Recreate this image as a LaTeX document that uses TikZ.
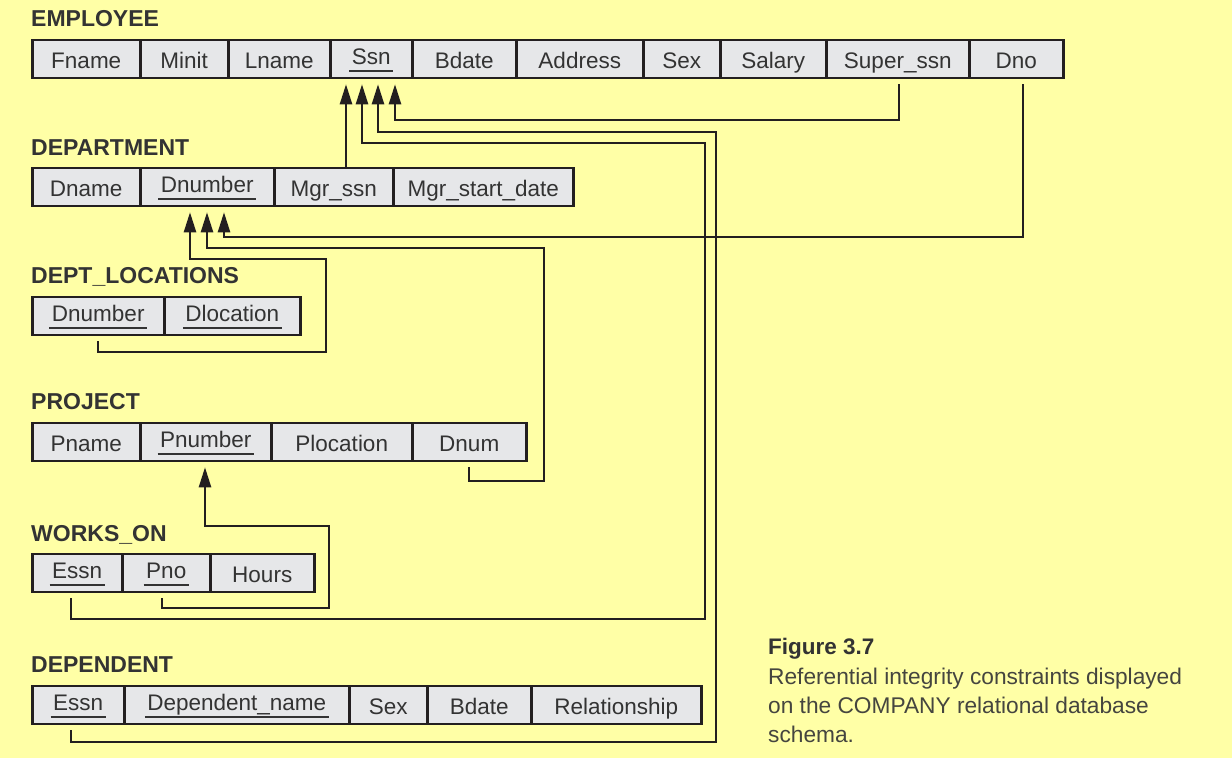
\documentclass[tikz,border=0pt]{standalone}
\usepackage{fontspec}
\setmainfont{Liberation Sans}
\usetikzlibrary{arrows.meta,calc}
\definecolor{bgyellow}{HTML}{FFFFA6}
\definecolor{cellgray}{HTML}{E6E7E9}
\definecolor{inkline}{HTML}{231F20}
\definecolor{inktext}{HTML}{333333}
\definecolor{captext}{HTML}{45453F}
\newcommand\ulword[1]{\setbox0\hbox{#1}\rlap{\hspace{-2.5pt}\rule[-8pt]{\dimexpr\wd0+5pt\relax}{2.3pt}}\box0}
\tikzset{
 cell/.style={draw=inkline, fill=cellgray, line width=2.5pt, minimum height=38pt, inner sep=0pt, anchor=west, text=inktext, font=\fontsize{22.5}{26}\selectfont, text height=20pt, text depth=2pt},
 keycell/.style={cell, text height=12pt, text depth=2pt},
 reltitle/.style={anchor=base west, inner sep=0pt, text=inktext, font=\bfseries\fontsize{23}{27}\selectfont},
 fk/.style={draw=inkline, line width=2.3pt, line join=miter},
 fkarrow/.style={fk, -{Triangle[length=20pt,width=12pt]}},
 captitle/.style={anchor=base west, inner sep=0pt, text=inktext, font=\bfseries\fontsize{22.5}{26}\selectfont},
 captext/.style={anchor=base west, inner sep=0pt, text=captext, font=\fontsize{22.7}{26}\selectfont},
}
\begin{document}
\begin{tikzpicture}[x=1pt,y=-1pt]
\useasboundingbox (0,0) rectangle (1232,758);
\fill[bgyellow] (0,0) rectangle (1232,758);

% EMPLOYEE
\node[reltitle] (temp) at (31,26) {EMPLOYEE};
\node[cell, minimum width=108pt] (efname) at (31,59) {Fname};
\node[cell, minimum width=88pt] (eminit) at (139,59) {Minit};
\node[cell, minimum width=102pt] (elname) at (227,59) {Lname};
\node[keycell, minimum width=82pt] (essn) at (329,59) {\ulword{Ssn}};
\node[cell, minimum width=104pt] (ebdate) at (411,59) {Bdate};
\node[cell, minimum width=127pt] (eaddr) at (515,59) {Address};
\node[cell, minimum width=77pt] (esex) at (642,59) {Sex};
\node[cell, minimum width=106pt] (esal) at (719,59) {Salary};
\node[cell, minimum width=143pt] (esuper) at (825,59) {Super\_ssn};
\node[cell, minimum width=94pt] (edno) at (968,59) {Dno};

% DEPARTMENT
\node[reltitle] (tdep) at (31,155) {DEPARTMENT};
\node[cell, minimum width=108pt] (ddname) at (31,187) {Dname};
\node[keycell, minimum width=134pt] (ddnum) at (139,187) {\ulword{Dnumber}};
\node[cell, minimum width=119pt] (dmgr) at (273,187) {Mgr\_ssn};
\node[cell, minimum width=180pt] (dmgrdate) at (392,187) {Mgr\_start\_date};

% DEPT_LOCATIONS
\node[reltitle] (tloc) at (31,283) {DEPT\_LOCATIONS};
\node[keycell, minimum width=132pt] (ldnum) at (31,316) {\ulword{Dnumber}};
\node[keycell, minimum width=136pt] (lloc) at (163,316) {\ulword{Dlocation}};

% PROJECT
\node[reltitle] (tproj) at (31,409) {PROJECT};
\node[cell, minimum width=108pt] (ppname) at (31,442) {Pname};
\node[keycell, minimum width=131pt] (ppnum) at (139,442) {\ulword{Pnumber}};
\node[cell, minimum width=141pt] (pploc) at (270,442) {Plocation};
\node[cell, minimum width=114pt] (pdnum) at (411,442) {Dnum};

% WORKS_ON
\node[reltitle] (twork) at (31,541) {WORKS\_ON};
\node[keycell, minimum width=90pt] (wessn) at (31,573) {\ulword{Essn}};
\node[keycell, minimum width=88pt] (wpno) at (121,573) {\ulword{Pno}};
\node[cell, minimum width=104pt] (whours) at (209,573) {Hours};

% DEPENDENT
\node[reltitle] (tdept) at (31,672) {DEPENDENT};
\node[keycell, minimum width=92pt] (dpessn) at (31,705) {\ulword{Essn}};
\node[keycell, minimum width=225pt] (dpname) at (123,705) {\ulword{Dependent\_name}};
\node[cell, minimum width=78pt] (dpsex) at (348,705) {Sex};
\node[cell, minimum width=104pt] (dpbdate) at (426,705) {Bdate};
\node[cell, minimum width=170pt] (dprel) at (530,705) {Relationship};

% arrow tips
\coordinate (ssnA) at ($(essn.south west)+(17,5)$);
\coordinate (ssnB) at ($(essn.south west)+(33,5)$);
\coordinate (ssnC) at ($(essn.south west)+(49,5)$);
\coordinate (ssnD) at ($(essn.south west)+(66,5)$);
\coordinate (dnA) at ($(ddnum.south west)+(51,5)$);
\coordinate (dnB) at ($(ddnum.south west)+(68,5)$);
\coordinate (dnC) at ($(ddnum.south west)+(85,5)$);
\coordinate (pnA) at ($(ppnum.south west)+(66,5)$);

% connectors
\draw[fkarrow] (dmgr.north -| ssnA) -- (ssnA);
\draw[fkarrow] ($(wessn.south west)+(40,5)$) |- (705,619) -- (705,143) -| (ssnB);
\draw[fkarrow] ($(dpessn.south west)+(40,5)$) |- (716,742) -- (716,132) -| (ssnC);
\draw[fkarrow] ($(esuper.south west)+(74,5)$) -- (899,120) -| (ssnD);
\draw[fkarrow] ($(edno.south west)+(55,5)$) -- (1023,237) -| (dnC);
\draw[fkarrow] ($(pdnum.south west)+(58,5)$) |- (544,481) -- (544,248) -| (dnB);
\draw[fkarrow] ($(ldnum.south west)+(67,5)$) |- (326,352) -- (326,259) -| (dnA);
\draw[fkarrow] ($(wpno.south west)+(41,5)$) |- (329,608) -- (329,526) -| (pnA);

% caption
\node[captitle] (figlabel) at (768,654) {Figure 3.7};
\node[captext] (figline1) at (768,684) {Referential integrity constraints displayed};
\node[captext] (figline2) at (768,713) {on the COMPANY relational database};
\node[captext] (figline3) at (768,742) {schema.};
\end{tikzpicture}
\end{document}
